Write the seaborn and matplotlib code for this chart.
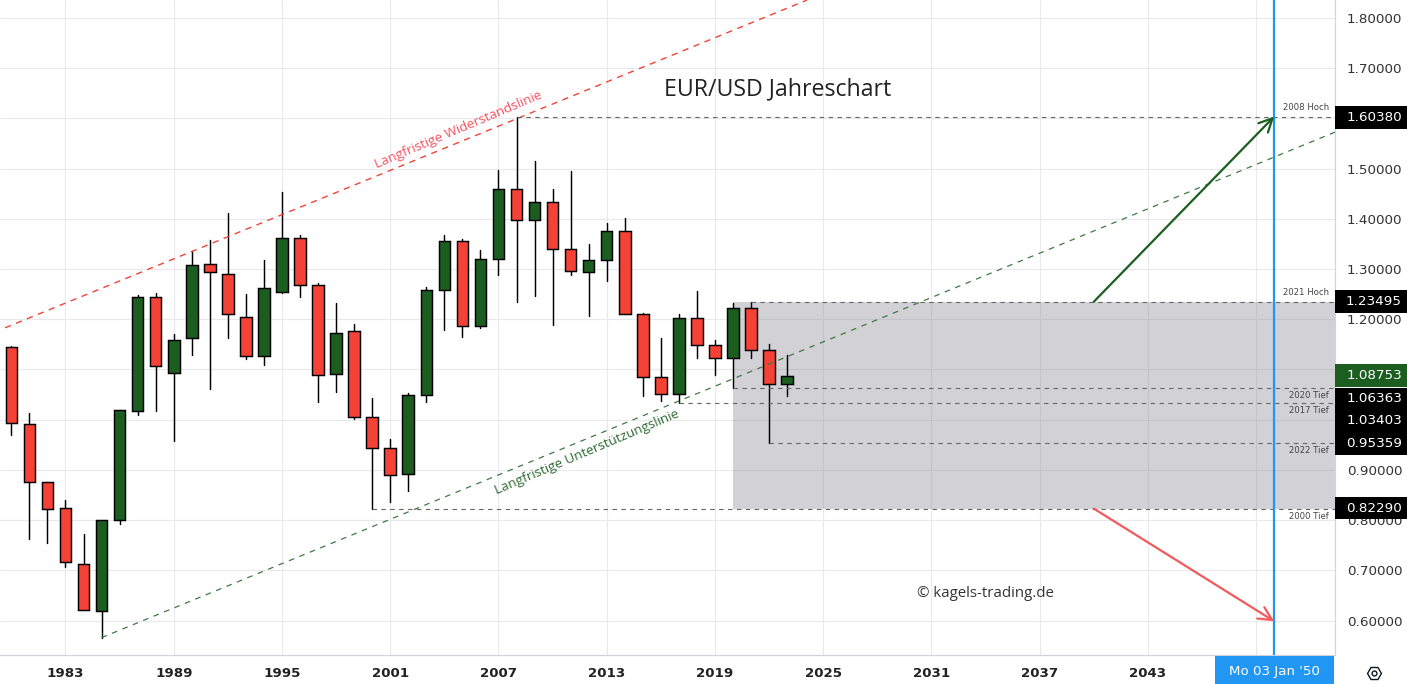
import matplotlib
matplotlib.use('Agg')
import matplotlib.pyplot as plt
from matplotlib.patches import Rectangle
from matplotlib.transforms import blended_transform_factory
import pandas as pd
import seaborn as sns

# ── Data ──────────────────────────────────────
years = list(range(1980, 2024))
opens = [1.1438, 0.9904, 0.875, 0.825, 0.7116, 0.618, 0.801, 1.018, 1.245, 1.092, 1.162, 1.311,
         1.291, 1.204, 1.126, 1.255, 1.361, 1.269, 1.09, 1.176, 1.006, 0.943, 0.891, 1.05,
         1.259, 1.355, 1.186, 1.321, 1.459, 1.397, 1.433, 1.339, 1.295, 1.319, 1.375, 1.21,
         1.086, 1.052, 1.2016, 1.148, 1.122, 1.2215, 1.138, 1.0705]
closes = [0.9924, 0.8749, 0.823, 0.7175, 0.62, 0.80, 1.02, 1.245, 1.106, 1.158, 1.309, 1.295,
          1.21, 1.126, 1.263, 1.361, 1.269, 1.088, 1.172, 1.006, 0.943, 0.889, 1.05, 1.259,
          1.355, 1.186, 1.321, 1.459, 1.397, 1.433, 1.339, 1.297, 1.319, 1.375, 1.21, 1.086,
          1.052, 1.2016, 1.148, 1.122, 1.2215, 1.138, 1.0705, 1.08753]
highs = [1.1464, 1.013, 0.875, 0.84, 0.772, 0.80, 1.02, 1.248, 1.253, 1.17, 1.336, 1.358,
         1.411, 1.25, 1.318, 1.453, 1.368, 1.272, 1.232, 1.19, 1.043, 0.961, 1.053, 1.265,
         1.3675, 1.36, 1.338, 1.497, 1.6038, 1.515, 1.459, 1.495, 1.35, 1.391, 1.401, 1.212,
         1.162, 1.21, 1.256, 1.158, 1.232, 1.23495, 1.15, 1.128]
lows = [0.969, 0.7626, 0.7546, 0.7068, 0.62, 0.566, 0.792, 1.01, 1.0175, 0.958, 1.129, 1.061,
        1.163, 1.121, 1.109, 1.253, 1.245, 1.0355, 1.055, 1.002, 0.8229, 0.836, 0.858, 1.0355,
        1.179, 1.165, 1.183, 1.288, 1.235, 1.247, 1.189, 1.288, 1.207, 1.2765, 1.21, 1.047,
        1.0375, 1.03403, 1.123, 1.089, 1.06363, 1.122, 0.95359, 1.047]

price_ticks = [0.6, 0.7, 0.8, 0.9, 1.0, 1.1, 1.2, 1.3, 1.4, 1.5, 1.6, 1.7, 1.8]
year_ticks = [1983, 1989, 1995, 2001, 2007, 2013, 2019, 2025, 2031, 2037, 2043]

# support / resistance levels: start year, price
level_starts = [2008, 2021, 2020, 2017, 2022, 2000]
level_prices = [1.6038, 1.23495, 1.06363, 1.03403, 0.95359, 0.8229]

resist_x = [1979.65, 2024.1]
resist_y = [1.183, 1.8357]
support_x = [1985, 2053.37]
support_y = [0.566, 1.5727]

zone_x = [2020, 2053.37]
zone_y = [0.8229, 1.23495]

# price boxes on the right axis
box_texts = ['1.60380', '1.23495', '1.06363', '1.03403', '0.95359', '0.82290', '1.08753']
box_centers = [1.6019, 1.2352, 1.0414, 0.9984, 0.9526, 0.8237, 1.0881]
box_colors = ['black', 'black', 'black', 'black', 'black', 'black', '#1b5e20']

note_texts = ['2008 Hoch', '2021 Hoch', '2020 Tief', '2017 Tief', '2022 Tief', '2000 Tief']
note_prices = [1.6225, 1.2526, 1.0474, 1.0183, 0.9386, 0.8072]

GREEN = '#1b5e20'
RED = '#f44336'
X_LIM = (1979.37, 2053.37)
Y_LIM = (0.5313, 1.8359)

# ── Theme ─────────────────────────────────────
sns.set_theme(style='white')
plt.rcParams['font.family'] = ['DejaVu Sans']

df = pd.DataFrame({'year': years, 'open': opens, 'close': closes, 'high': highs, 'low': lows})
df['bottom'] = df[['open', 'close']].min(axis=1)
df['height'] = (df['close'] - df['open']).abs()

wicks = df.melt(id_vars='year', value_vars=['high', 'low'], value_name='price')

fig = plt.figure(figsize=(14.07, 6.84), dpi=100)
ax = fig.add_axes([0, 1 - 655 / 684, 1335 / 1407, 655 / 684])
ax.set_axisbelow(True)

# ── Candles ───────────────────────────────────
sns.lineplot(data=wicks, x='year', y='price', units='year', estimator=None,
             color='black', linewidth=1.05, legend=False, ax=ax, zorder=3)

for color, part in [(GREEN, df[df['close'] >= df['open']]), (RED, df[df['close'] < df['open']])]:
    sns.barplot(data=part, x='year', y='height', bottom=part['bottom'].values, native_scale=True,
                color=color, saturation=1, width=0.64, edgecolor='black', linewidth=1.05,
                errorbar=None, ax=ax, zorder=4)

# ── Zone + lines ──────────────────────────────
ax.add_patch(Rectangle((zone_x[0], zone_y[0]), zone_x[1] - zone_x[0], zone_y[1] - zone_y[0],
                       facecolor='#7c7a88', alpha=0.34, edgecolor='none', zorder=2))

ax.plot(resist_x, resist_y, color=RED, lw=1.0, dashes=(4.5, 4), zorder=5)
ax.plot(support_x, support_y, color='#3f7a42', lw=0.9, dashes=(4.5, 4.5), zorder=5)

for start, price in zip(level_starts, level_prices):
    ax.plot([start, X_LIM[1]], [price, price], color='#666666', lw=0.8, dashes=(4, 4), zorder=5)

ax.axvline(2050, color='#2196f3', lw=1.6, zorder=6)

ax.annotate('', xy=(2050, 1.6038), xytext=(2040, 1.2349), zorder=6,
            arrowprops=dict(arrowstyle='->,head_length=0.8,head_width=0.4', color=GREEN, lw=1.6,
                            shrinkA=0, shrinkB=0))
ax.annotate('', xy=(2050, 0.5985), xytext=(2040, 0.8229), zorder=6,
            arrowprops=dict(arrowstyle='->,head_length=0.8,head_width=0.4', color='#f55a5a', lw=1.6,
                            shrinkA=0, shrinkB=0))

# ── Axes ──────────────────────────────────────
ax.set_xlim(*X_LIM)
ax.set_ylim(*Y_LIM)
ax.set_xlabel('')
ax.set_ylabel('')
ax.yaxis.tick_right()
ax.set_yticks(price_ticks)
ax.set_yticklabels([f'{p:.5f}' for p in price_ticks], fontsize=9.7, color='#333333')
ax.set_xticks(year_ticks + [2049])
ax.set_xticklabels([str(y) for y in year_ticks] + [''], fontsize=9.6, fontweight='bold', color='#222222')
ax.tick_params(axis='both', length=0)
ax.tick_params(axis='y', pad=8.5)
ax.tick_params(axis='x', pad=8.5)
ax.grid(True, color='#e8e9ed', lw=0.8)
for side in ['top', 'left']:
    ax.spines[side].set_visible(False)
for side in ['right', 'bottom']:
    ax.spines[side].set_color('#d1d4dc')
    ax.spines[side].set_linewidth(0.9)

# ── Text ──────────────────────────────────────
ax.text(2022.5, 1.6584, 'EUR/USD Jahreschart', fontsize=16.7, family='Open Sans',
        color='#222222', ha='center', va='center', zorder=8)
ax.text(2034.0, 0.6544, '© kagels-trading.de', fontsize=10.8, family='Open Sans',
        color='#333333', ha='center', va='center', zorder=8)
ax.text(2004.8, 1.5775, 'Langfristige Widerstandslinie', fontsize=9.6, family='Open Sans',
        color='#f7525f', rotation=23, rotation_mode='anchor', ha='center', va='center', zorder=8)
ax.text(2011.9, 0.9349, 'Langfristige Unterstützungslinie', fontsize=9.6, family='Open Sans',
        color='#2e6b32', rotation=23, rotation_mode='anchor', ha='center', va='center', zorder=8)

for text, price in zip(note_texts, note_prices):
    ax.text(2053.03, price, text, fontsize=6.1, color='#444444', ha='right', va='center', zorder=8)

# ── Price boxes ───────────────────────────────
trans = blended_transform_factory(ax.transAxes, ax.transData)
right_edge = 1407 / 1335
box_h = 22.5 / 502
for text, center, color in zip(box_texts, box_centers, box_colors):
    ax.add_patch(Rectangle((1.0, center - box_h / 2), right_edge - 1.0, box_h, transform=trans,
                           facecolor=color, edgecolor='none', clip_on=False, zorder=9))
    ax.text(1402 / 1335, center, text, transform=trans, fontsize=9.7, color='white',
            ha='right', va='center', zorder=10)

# ── Date label + settings icon ────────────────
fig.patches.append(Rectangle((1215 / 1407, 0), 119 / 1407, 28 / 684, transform=fig.transFigure,
                             facecolor='#2196f3', edgecolor='none', figure=fig))
fig.text(1274.5 / 1407, 12 / 684, "Mo 03 Jan '50", fontsize=9.6, color='white', ha='center', va='center')
ax.plot([1374 / 1407], [11 / 684], marker='H', ms=10, mfc='none', mec='#131722', mew=1,
        transform=fig.transFigure, clip_on=False)
ax.plot([1374 / 1407], [11 / 684], marker='o', ms=3.5, mfc='none', mec='#131722', mew=1,
        transform=fig.transFigure, clip_on=False)

plt.savefig('out.png', dpi=100)
